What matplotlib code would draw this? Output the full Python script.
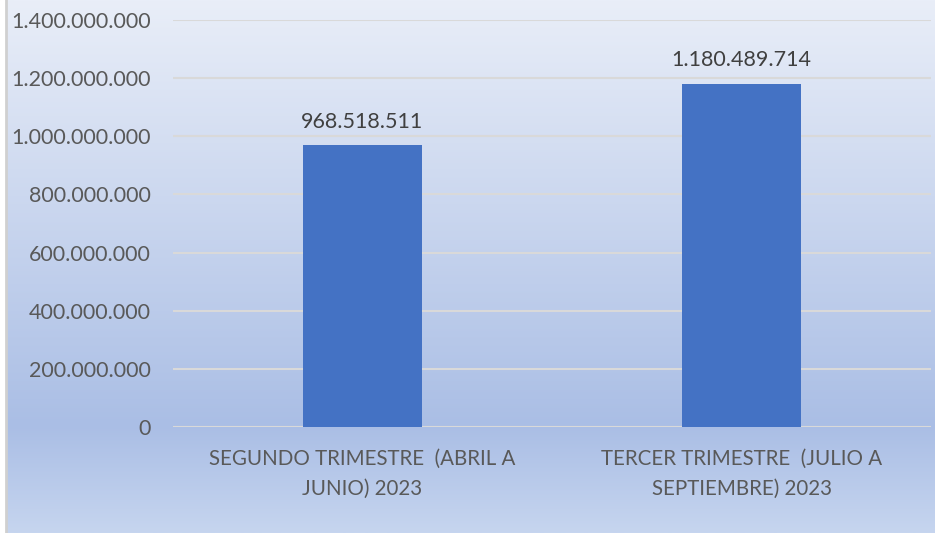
import numpy as np
import matplotlib.pyplot as plt
from matplotlib.colors import LinearSegmentedColormap

# chart data
categories = ["SEGUNDO TRIMESTRE  (ABRIL A\nJUNIO) 2023",
              "TERCER TRIMESTRE  (JULIO A\nSEPTIEMBRE) 2023"]
values = [968518511, 1180489714]
yticks = [0, 200000000, 400000000, 600000000, 800000000,
          1000000000, 1200000000, 1400000000]


def miles(v):
    # Spanish thousands separator
    return f"{int(v):,}".replace(",", ".")


plt.rcParams['font.family'] = ['Lato', 'DejaVu Sans']
text_color = '#595959'

fig = plt.figure(figsize=(9.35, 5.33), dpi=100)

# background gradient (light at top, blue around the axis, lighter at the bottom)
bg = fig.add_axes([0, 0, 1, 1], zorder=0)
cmap = LinearSegmentedColormap.from_list(
    'bg', [(0.0, '#e9eef8'), (0.80, '#aabee5'), (1.0, '#c6d5ef')])
grad = np.linspace(0, 1, 256).reshape(-1, 1)
bg.imshow(grad, aspect='auto', cmap=cmap, extent=[0, 1, 0, 1], origin='upper')
bg.axvspan(0, 5 / 935, color='white')
bg.axvline(6 / 935, color='#d0d0d0', lw=2)
bg.set_xlim(0, 1)
bg.set_ylim(0, 1)
bg.axis('off')

ax = fig.add_axes([173 / 935, 1 - 427 / 533, (931 - 173) / 935, (427 - 20) / 533], zorder=1)
ax.patch.set_alpha(0)

x = np.arange(len(categories))
bars = ax.bar(x, values, width=0.314, color='#4472C4', zorder=3)

for b, v in zip(bars, values):
    ax.annotate(miles(v), (b.get_x() + b.get_width() / 2, v),
                xytext=(0, 10), textcoords='offset points',
                ha='center', va='bottom', fontsize=15.5, color='#404040')

ax.set_xlim(-0.5, len(categories) - 0.5)
ax.set_ylim(0, 1400000000)
ax.set_yticks(yticks)
ax.set_yticklabels([miles(t) for t in yticks])
ax.set_xticks(x)
ax.set_xticklabels(categories, linespacing=1.6)
ax.tick_params(axis='both', length=0, labelcolor=text_color)
ax.tick_params(axis='y', pad=16, labelsize=15.5)
ax.tick_params(axis='x', pad=16, labelsize=14.8)

ax.grid(axis='y', color='#d9d9d9', lw=1.5, zorder=0)
for s in ax.spines.values():
    s.set_visible(False)

plt.savefig('out.png', dpi=100)
